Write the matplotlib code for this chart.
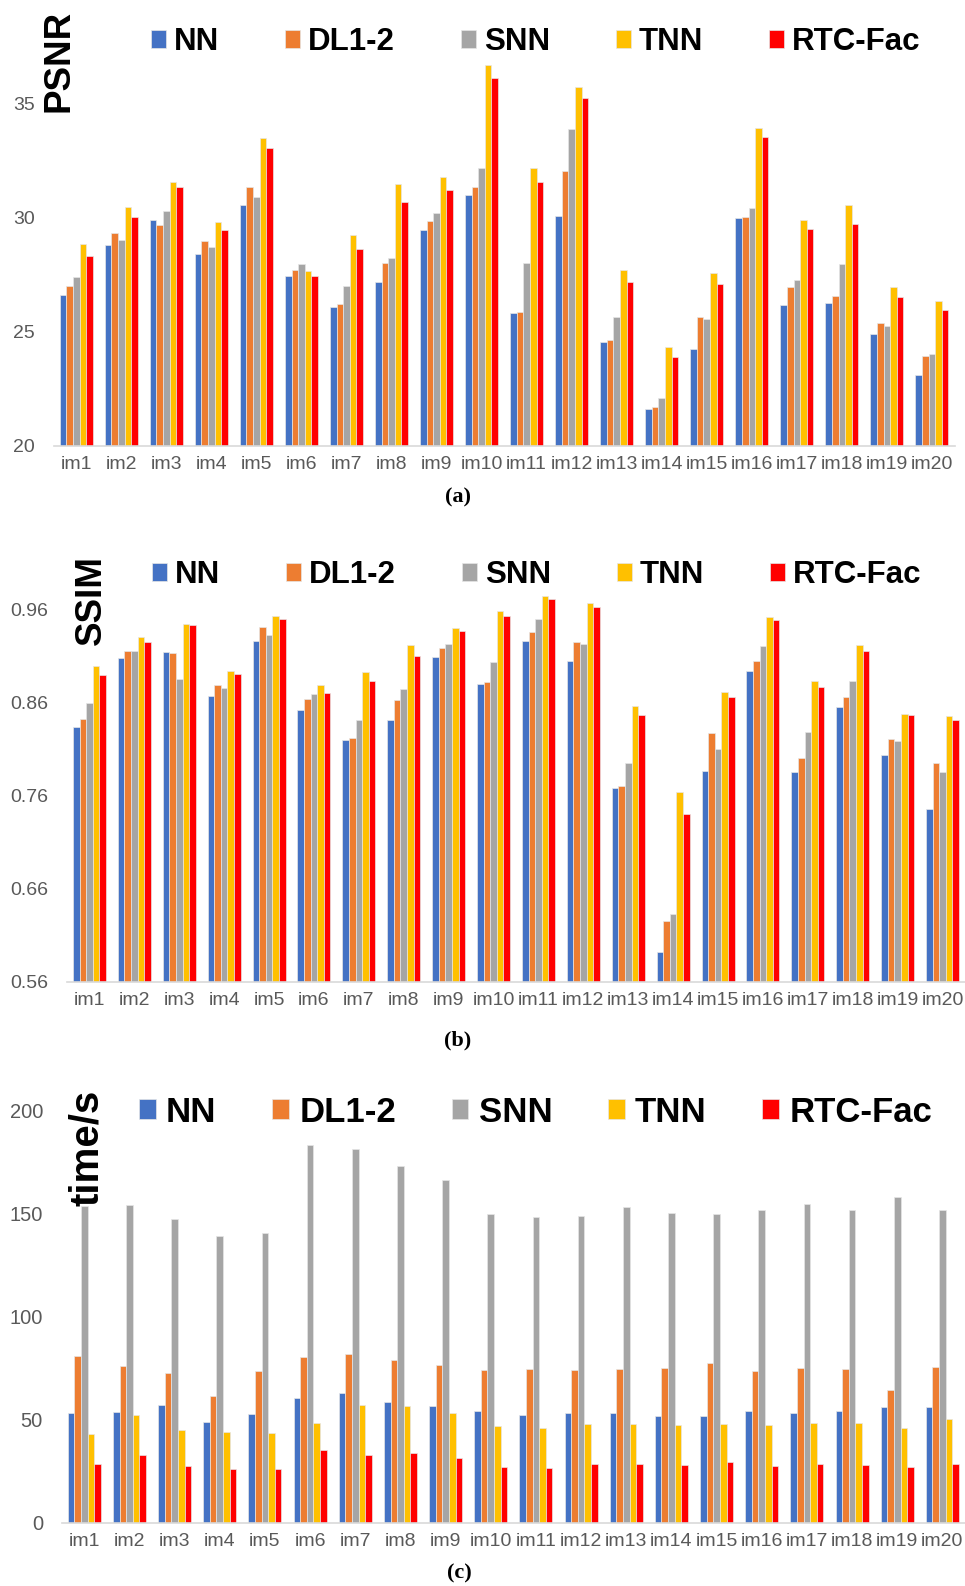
import numpy as np
import matplotlib
matplotlib.use("Agg")
import matplotlib.pyplot as plt

categories = [f"im{i}" for i in range(1, 21)]
methods = ["NN", "DL1-2", "SNN", "TNN", "RTC-Fac"]
colors = ["#4472C4", "#ED7D31", "#A5A5A5", "#FFC000", "#FF0000"]

psnr_nn  = [26.62, 28.79, 29.90, 28.42, 30.53, 27.43, 26.10, 27.16, 29.46, 31.01,
            25.82, 30.09, 24.56, 21.62, 24.24, 29.97, 26.17, 26.26, 24.91, 23.13]
psnr_dl  = [27.02, 29.33, 29.68, 28.98, 31.33, 27.72, 26.23, 28.01, 29.84, 31.36,
            25.85, 32.03, 24.66, 21.70, 25.64, 30.04, 26.97, 26.58, 25.38, 23.93]
psnr_snn = [27.41, 29.04, 30.31, 28.71, 30.91, 27.97, 26.99, 28.25, 30.22, 32.18,
            28.03, 33.86, 25.64, 22.11, 25.57, 30.44, 27.28, 27.97, 25.26, 24.04]
psnr_tnn = [28.86, 30.47, 31.56, 29.81, 33.48, 27.68, 29.24, 31.48, 31.78, 36.70,
            32.15, 35.73, 27.70, 24.33, 27.59, 33.93, 29.90, 30.56, 26.96, 26.37]
psnr_rtc = [28.30, 30.03, 31.33, 29.46, 33.06, 27.46, 28.63, 30.67, 31.20, 36.13,
            31.55, 35.25, 27.18, 23.90, 27.08, 33.51, 29.52, 29.71, 26.52, 25.96]

ssim_nn  = [0.833, 0.907, 0.914, 0.867, 0.926, 0.852, 0.820, 0.841, 0.908, 0.880,
            0.926, 0.904, 0.768, 0.592, 0.786, 0.893, 0.785, 0.855, 0.803, 0.746]
ssim_dl  = [0.842, 0.915, 0.913, 0.879, 0.941, 0.864, 0.822, 0.862, 0.918, 0.882,
            0.935, 0.925, 0.770, 0.625, 0.827, 0.904, 0.800, 0.866, 0.821, 0.795]
ssim_snn = [0.859, 0.915, 0.885, 0.875, 0.932, 0.869, 0.841, 0.874, 0.922, 0.903,
            0.949, 0.923, 0.795, 0.633, 0.810, 0.920, 0.828, 0.883, 0.818, 0.785]
ssim_tnn = [0.899, 0.930, 0.944, 0.894, 0.953, 0.879, 0.892, 0.921, 0.940, 0.958,
            0.974, 0.966, 0.856, 0.764, 0.871, 0.951, 0.883, 0.921, 0.847, 0.845]
ssim_rtc = [0.889, 0.925, 0.943, 0.890, 0.949, 0.870, 0.883, 0.910, 0.936, 0.953,
            0.971, 0.962, 0.846, 0.740, 0.866, 0.948, 0.876, 0.915, 0.846, 0.841]

time_nn  = [53.2, 53.9, 57.3, 49.0, 52.7, 60.3, 63.1, 58.4, 56.5, 54.4,
            52.4, 53.5, 53.5, 51.9, 51.6, 54.0, 53.2, 54.0, 56.0, 56.1]
time_dl  = [81.0, 76.0, 72.4, 61.6, 73.7, 80.5, 81.6, 78.9, 76.6, 74.0,
            74.7, 74.0, 74.4, 75.0, 77.4, 73.7, 75.3, 74.7, 64.4, 75.6]
time_snn = [153.5, 153.9, 147.1, 139.2, 140.3, 182.9, 181.0, 172.7, 166.0, 149.7,
            148.4, 148.5, 153.1, 150.0, 149.4, 151.5, 154.4, 151.5, 157.7, 151.6]
time_tnn = [43.2, 52.3, 45.0, 44.0, 43.5, 48.5, 57.1, 56.6, 53.1, 46.8,
            46.0, 47.9, 47.7, 47.3, 47.7, 47.4, 48.4, 48.4, 46.0, 50.3]
time_rtc = [28.5, 32.7, 27.6, 26.3, 26.0, 35.2, 32.7, 33.9, 31.5, 27.3,
            26.8, 28.7, 28.7, 27.9, 29.4, 27.7, 28.5, 27.9, 27.1, 28.7]

psnr_ticks = [20, 25, 30, 35]
ssim_ticks = [0.56, 0.66, 0.76, 0.86, 0.96]
time_ticks = [0, 50, 100, 150, 200]

W, H = 965, 1586
fig = plt.figure(figsize=(W / 100, H / 100), dpi=100)

def fx(px):
    return px / W

def fy(py):
    return 1 - py / H

panels = [
    dict(series=[psnr_nn, psnr_dl, psnr_snn, psnr_tnn, psnr_rtc], ticks=psnr_ticks,
         ticklabels=[str(t) for t in psnr_ticks], ylim=(20, 37.0),
         left=53.7, right=954.5, base=446, top=446 - 17.0 * 22.84,
         ylabel="PSNR", ylab_xy=(59, 61), ylab_fs=26.5,
         leg_xy=(151, 42), leg_fs=22.5, colsp=2.1, htp=0.26,
         cap="(a)", cap_xy=(458, 497), tick_fs=14),
    dict(series=[ssim_nn, ssim_dl, ssim_snn, ssim_tnn, ssim_rtc], ticks=ssim_ticks,
         ticklabels=[f"{t:.2f}" for t in ssim_ticks], ylim=(0.56, 0.98),
         left=67, right=965, base=982, top=982 - 0.42 * 932.5,
         ylabel="SSIM", ylab_xy=(91, 600), ylab_fs=26.5,
         leg_xy=(152, 575), leg_fs=22.5, colsp=2.1, htp=0.26,
         cap="(b)", cap_xy=(458, 1040), tick_fs=14),
    dict(series=[time_nn, time_dl, time_snn, time_tnn, time_rtc], ticks=time_ticks,
         ticklabels=[str(t) for t in time_ticks], ylim=(0, 200),
         left=61.7, right=965, base=1523, top=1110,
         ylabel="time/s", ylab_xy=(87, 1148), ylab_fs=29,
         leg_xy=(139, 1112), leg_fs=25, colsp=1.6, htp=0.3,
         cap="(c)", cap_xy=(459, 1573), tick_fs=14.5),
]

x = np.arange(len(categories))
bw = 0.1466

for p in panels:
    ax = fig.add_axes([fx(p["left"]), fy(p["base"]), fx(p["right"] - p["left"]),
                       (p["base"] - p["top"]) / H])
    handles = []
    for i, (vals, c, name) in enumerate(zip(p["series"], colors, methods)):
        h = ax.bar(x + (i - 2) * bw, vals, width=bw, color=c, edgecolor="#e6e6e6",
                   linewidth=0.5, label=name, zorder=2)
        handles.append(h)
    ax.set_xlim(-0.5, len(categories) - 0.5)
    ax.set_ylim(*p["ylim"])
    ax.set_yticks(p["ticks"])
    ax.set_yticklabels(p["ticklabels"], family="Liberation Sans", fontsize=p["tick_fs"],
                       color="#595959")
    ax.set_xticks(x)
    ax.set_xticklabels(categories, family="Liberation Sans", fontsize=14, color="#595959")
    ax.tick_params(axis="y", length=0, pad=13.5)
    ax.tick_params(axis="x", length=0, pad=7)
    for s in ["top", "right", "left"]:
        ax.spines[s].set_visible(False)
    ax.spines["bottom"].set_color("#d9d9d9")
    ax.spines["bottom"].set_linewidth(1.2)
    ax.spines["bottom"].set_zorder(3)
    ax.patch.set_alpha(0)

    fig.text(fx(p["ylab_xy"][0]), fy(p["ylab_xy"][1]), p["ylabel"], rotation=90,
             ha="center", va="center", family="Liberation Sans", weight="bold",
             fontsize=p["ylab_fs"], color="black")

    fs = p["leg_fs"]
    ax.legend(handles=handles, loc="center left",
              bbox_to_anchor=(fx(p["leg_xy"][0]), fy(p["leg_xy"][1])),
              bbox_transform=fig.transFigure, ncol=5, frameon=False,
              prop=dict(family="Liberation Sans", weight="bold", size=fs),
              handlelength=0.48, handleheight=0.48, handletextpad=p["htp"],
              columnspacing=p["colsp"], borderpad=0, borderaxespad=0)

    fig.text(fx(p["cap_xy"][0]), fy(p["cap_xy"][1]), p["cap"], ha="center", va="center",
             family="Liberation Serif", weight="bold", fontsize=16, color="black")

fig.savefig("out.png", dpi=100, facecolor="white")
